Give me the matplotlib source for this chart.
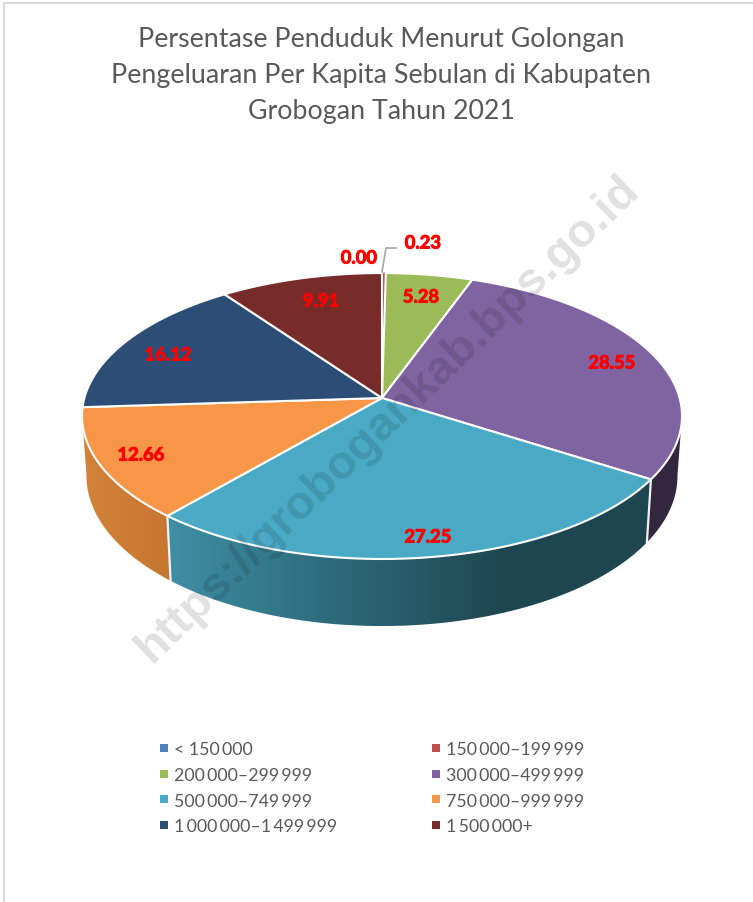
import numpy as np
import matplotlib
matplotlib.use('Agg')
import matplotlib.pyplot as plt
import matplotlib.patheffects as pe
from matplotlib.patches import Polygon

# --- Data ---
title_lines = ['Persentase Penduduk Menurut Golongan',
               'Pengeluaran Per Kapita Sebulan di Kabupaten',
               'Grobogan Tahun 2021']
categories = ['< 150\u2009000', '150\u2009000–199\u2009999', '200\u2009000–299\u2009999', '300\u2009000–499\u2009999',
              '500\u2009000–749\u2009999', '750\u2009000–999\u2009999', '1\u2009000\u2009000–1\u2009499\u2009999', '1\u2009500\u2009000+']
values = [0.00, 0.23, 5.28, 28.55, 27.25, 12.66, 16.12, 9.91]
top_colors = ['#4F81BD', '#C0504D', '#9BBB59', '#8064A2', '#4AAAC5', '#F79646', '#2C4D75', '#772C2A']
watermark = 'https://grobogankab.bps.go.id'

# pie geometry, in pixels of the picture
CX, CY = 382, 399
R, K, A = 297.6, 0.126, 140.7


def top_xy(theta):
    # theta in radians, clockwise from 12 o'clock, tilted disc with perspective
    u, v = np.sin(theta), np.cos(theta)
    d = 1 + K * v
    return R * u / d, A * v / d


def rim(theta):
    x, y = top_xy(theta)
    return np.column_stack([CX + x, CY - y])


def base(theta):
    x, y = top_xy(theta)
    return np.column_stack([CX + 0.985 * x, CY + 59 - 1.05 * y])


fig = plt.figure(figsize=(7.53, 9.03), dpi=100)
ax = fig.add_axes([0, 0, 1, 1])
ax.set_xlim(0, 753)
ax.set_ylim(903, 0)
ax.axis('off')

# chart frame
ax.plot([4, 4, 753], [903, 4, 4], color='#D9D9D9', lw=1.5, zorder=1)

edges = np.cumsum([0] + values) / 100 * 2 * np.pi
vis_start, vis_end = np.radians(97), np.radians(263)

# side wall, gradient fill per slice clipped to the wall outline
wall_grads = {3: ['#33273F', '#33273F'],
              4: ['#3F8FA5', '#2F6F80', '#1E4650', '#1D4650'],
              5: ['#D3823A', '#C6762F']}
grad_stops = {3: [0, 1], 4: [0, 0.3, 0.7, 1], 5: [0, 1]}
for i in [3, 5, 4]:
    t0, t1 = max(edges[i], vis_start), min(edges[i + 1], vis_end)
    th = np.linspace(t0, t1, 120)
    poly = np.vstack([rim(th), base(th)[::-1]])
    patch = Polygon(poly, closed=True, fc='none', ec='none', zorder=2)
    ax.add_patch(patch)
    x0, x1 = poly[:, 0].min(), poly[:, 0].max()
    y0, y1 = poly[:, 1].min(), poly[:, 1].max()
    cols = np.array([matplotlib.colors.to_rgb(c) for c in wall_grads[i]])
    ramp = np.linspace(0, 1, 256)
    img = np.column_stack([np.interp(ramp, grad_stops[i], cols[:, c]) for c in range(3)])[None, :, :]
    im = ax.imshow(img, extent=[x0, x1, y1, y0], aspect='auto', zorder=2, interpolation='bilinear')
    im.set_clip_path(patch)
ax.set_xlim(0, 753)
ax.set_ylim(903, 0)

# white edges on the wall
for t in [edges[4], edges[5]]:
    a, b = rim(np.array([t]))[0], base(np.array([t]))[0]
    ax.plot([a[0], b[0]], [a[1], b[1]], color='#F2F2F2', lw=1.6, zorder=3)

# top of the pie
for i, c in enumerate(top_colors):
    if values[i] == 0:
        continue
    th = np.linspace(edges[i], edges[i + 1], max(int(values[i] * 4), 3))
    poly = np.vstack([[CX, CY], rim(th)])
    lw = 0.6 if values[i] < 1 else 1.5
    ax.add_patch(Polygon(poly, closed=True, fc=c, ec='white' if values[i] >= 1 else c, lw=lw,
                         joinstyle='round', zorder=4))

# leader line for the thin slice
ax.plot([382, 386, 396], [273, 249, 249], color='#A6A6A6', lw=1.2, zorder=5)

# value labels
label_xy = [(359, 259), (423, 244), (421, 298), (612, 364), (428, 538), (141, 456), (168, 356), (321, 302)]
for v, (x, y) in zip(values, label_xy):
    ax.text(x, y, f'{v:.2f}', color='#FF0000', fontsize=13.2, fontweight='bold', family='Lato',
            ha='center', va='center', zorder=6,
            path_effects=[pe.withStroke(linewidth=0.7, foreground='#FF0000')])

# title
for line, y in zip(title_lines, [40, 76, 112]):
    ax.text(381, y, line, color='#595959', fontsize=19.3, family='Lato', ha='center', va='center', zorder=6)

# legend, two columns filled row by row
for i, (name, c) in enumerate(zip(categories, top_colors)):
    row, col = i // 2, i % 2
    x, y = 164 + 272 * col, 749 + 25.6 * row
    ax.scatter([x], [y], marker='s', s=26, color=c, linewidths=0, zorder=6)
    ax.text(x + 10, y + 1.5, name, color='#595959', fontsize=12.8, family=['Lato', 'DejaVu Sans'],
            ha='left', va='center', zorder=6)

# watermark over everything
ax.text(388, 419, watermark, color='black', alpha=0.12, fontsize=34, fontweight='bold',
        family='Liberation Sans', rotation=44, rotation_mode='anchor', ha='center', va='center', zorder=7)

fig.savefig('out.png', dpi=100, facecolor='white')
